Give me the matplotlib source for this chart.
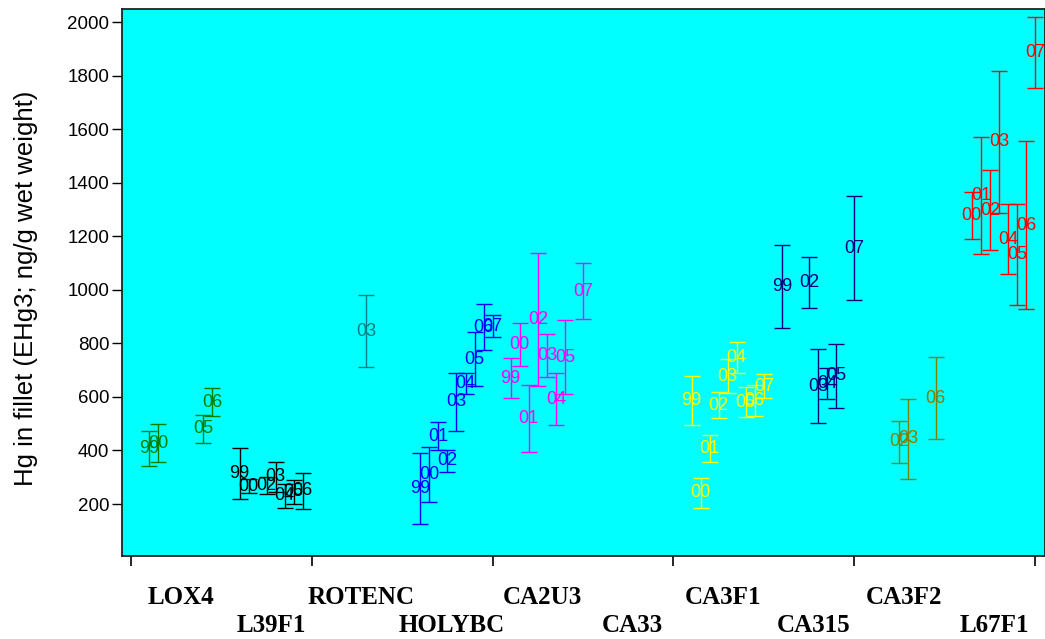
import matplotlib
matplotlib.use("Agg")
import matplotlib.pyplot as plt
import matplotlib.transforms as mtransforms

# sites along the x axis
sites = ["LOX4", "L39F1", "ROTENC", "HOLYBC", "CA2U3",
         "CA33", "CA3F1", "CA315", "CA3F2", "L67F1"]
site_colors = ["#008000", "#000000", "#008080", "#0000FF", "#FF00FF",
               "#000000", "#FFFF00", "#000080", "#808000", "#FF0000"]
all_years = ["99", "00", "01", "02", "03", "04", "05", "06", "07"]

# per site: sampled years, mean Hg, error (+/-)
lox4_years = ["99", "00", "05", "06"]
lox4_mean = [407, 428, 481, 581]
lox4_err = [65, 71, 52, 52]

l39f1_years = ["99", "00", "02", "03", "04", "05", "06"]
l39f1_mean = [313, 267, 268, 302, 230, 245, 249]
l39f1_err = [95, 25, 32, 56, 45, 45, 68]

rotenc_years = ["03"]
rotenc_mean = [846]
rotenc_err = [135]

holybc_years = ["99", "00", "01", "02", "03", "04", "05", "06", "07"]
holybc_mean = [258, 310, 454, 361, 582, 651, 741, 861, 865]
holybc_err = [134, 104, 52, 40, 108, 40, 100, 86, 40]

ca2u3_years = ["99", "00", "01", "02", "03", "04", "05", "07"]
ca2u3_mean = [670, 797, 519, 890, 755, 591, 749, 995]
ca2u3_err = [75, 81, 126, 249, 79, 97, 138, 104]

ca33_years = []
ca33_mean = []
ca33_err = []

ca3f1_years = ["99", "00", "01", "02", "03", "04", "05", "06", "07"]
ca3f1_mean = [587, 242, 407, 570, 678, 746, 580, 587, 640]
ca3f1_err = [92, 56, 51, 50, 64, 58, 56, 57, 45]

ca315_years = ["99", "02", "03", "04", "05", "07"]
ca315_mean = [1013, 1029, 640, 651, 679, 1156]
ca315_err = [154, 95, 138, 58, 120, 195]

ca3f2_years = ["02", "03", "06"]
ca3f2_mean = [432, 443, 595]
ca3f2_err = [80, 151, 153]

l67f1_years = ["00", "01", "02", "03", "04", "05", "06", "07"]
l67f1_mean = [1278, 1353, 1298, 1554, 1190, 1132, 1242, 1887]
l67f1_err = [88, 219, 149, 265, 131, 189, 315, 134]

site_data = [
    (lox4_years, lox4_mean, lox4_err),
    (l39f1_years, l39f1_mean, l39f1_err),
    (rotenc_years, rotenc_mean, rotenc_err),
    (holybc_years, holybc_mean, holybc_err),
    (ca2u3_years, ca2u3_mean, ca2u3_err),
    (ca33_years, ca33_mean, ca33_err),
    (ca3f1_years, ca3f1_mean, ca3f1_err),
    (ca315_years, ca315_mean, ca315_err),
    (ca3f2_years, ca3f2_mean, ca3f2_err),
    (l67f1_years, l67f1_mean, l67f1_err),
]

plt.rcParams['font.family'] = ['Liberation Sans', 'DejaVu Sans']

W, H = 1045, 639
fig = plt.figure(figsize=(W / 100, H / 100), dpi=100)
ax = fig.add_axes([122 / W, 83 / H, (W - 122) / W, 547 / H])
ax.set_facecolor("#00FFFF")

for i, (years, means, errs) in enumerate(site_data):
    col = site_colors[i]
    for yr, m, e in zip(years, means, errs):
        x = i + 0.2 + 0.1 * all_years.index(yr)
        ax.errorbar(x, m, yerr=e, fmt='none', ecolor=col, elinewidth=1.0,
                    capsize=5.8, capthick=1.0)
        ax.text(x, m, yr, color=col, fontsize=13, ha='center', va='center')

ax.set_xlim(-0.1, 10.11)
ax.set_ylim(5.7, 2050)

ax.set_yticks(range(200, 2001, 200))
ax.tick_params(axis='y', direction='out', length=7, width=1, labelsize=13.5, pad=2)
ax.set_xticks(range(0, 11, 2))
ax.set_xticklabels([])
ax.tick_params(axis='x', direction='out', length=7, width=1.2)

for sp in ax.spines.values():
    sp.set_linewidth(1.3)
    sp.set_color("#222222")

ax.set_ylabel("Hg in fillet (EHg3; ng/g wet weight)", fontsize=18.5)
ax.yaxis.set_label_coords(38 / W, 1 - 288 / H, transform=fig.transFigure)

# site names in two staggered rows under the axis
trans = mtransforms.blended_transform_factory(ax.transData, fig.transFigure)
for i, name in enumerate(sites):
    ypos = 1 - 597 / H if i % 2 == 0 else 1 - 625 / H
    ax.text(i + 0.55, ypos, name, transform=trans, ha='center', va='center',
            fontsize=18, fontweight='bold', family='Liberation Serif')

fig.savefig("out.png", dpi=100)
